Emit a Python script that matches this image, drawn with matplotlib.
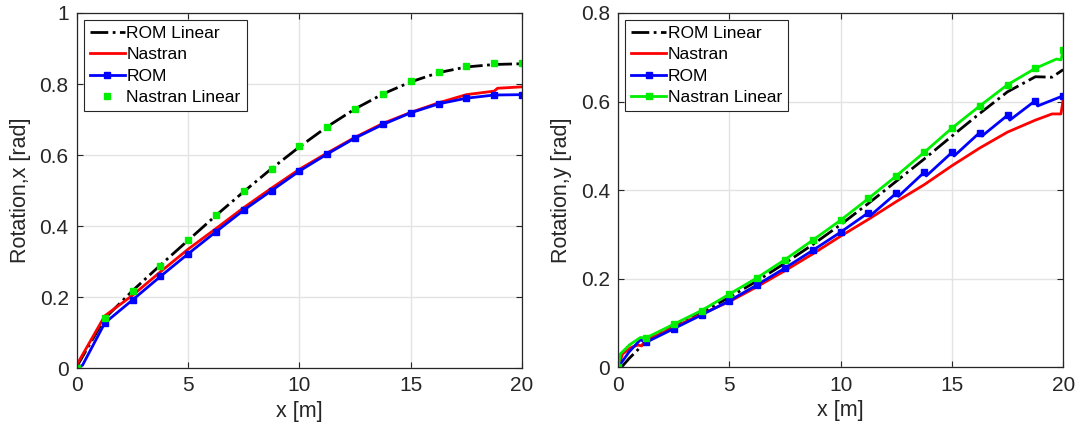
import numpy as np
import matplotlib
matplotlib.use("Agg")
from matplotlib import pyplot as plt

plt.rcParams["font.family"] = ["Liberation Sans", "DejaVu Sans"]

# stations along the span where the markers sit
stations = [0, 1.25, 2.5, 3.75, 5, 6.25, 7.5, 8.75, 10, 11.25, 12.5, 13.75, 15, 16.25, 17.5, 18.75, 20]

# ---- Rotation about x (left panel)
rx_nastran_lin = [0.0, 0.142, 0.216, 0.288, 0.361, 0.430, 0.499, 0.562, 0.625, 0.679,
                  0.730, 0.772, 0.808, 0.834, 0.850, 0.858, 0.858]
rx_rom_lin = [0.005, 0.140, 0.218, 0.290, 0.360, 0.430, 0.497, 0.562, 0.623, 0.680,
              0.730, 0.772, 0.806, 0.832, 0.848, 0.855, 0.857]
rx_nastran_x = [0, 1.25, 2.5, 3.75, 5, 6.25, 7.5, 8.75, 10, 11.25, 12.5, 13.75, 15,
                16.25, 17.5, 18.75, 18.9, 20]
rx_nastran = [0.01, 0.147, 0.205, 0.271, 0.335, 0.393, 0.452, 0.507, 0.56, 0.606,
              0.65, 0.689, 0.72, 0.747, 0.77, 0.78, 0.788, 0.792]
rx_rom_x = [0, 0.25, 1.25, 2.5, 3.75, 5, 6.25, 7.5, 8.75, 10, 11.25, 12.5, 13.75, 15,
            16.25, 17.5, 18.75, 20]
rx_rom = [0, 0.008, 0.127, 0.192, 0.258, 0.322, 0.384, 0.445, 0.5, 0.555, 0.603,
          0.648, 0.686, 0.719, 0.744, 0.76, 0.769, 0.77]

# ---- Rotation about y (right panel)
ry_rom_lin_x = [0.15, 0.5, 1.0, 1.25, 2.5, 3.75, 5, 6.25, 7.5, 8.75, 10, 11.25, 12.5,
                13.75, 15, 16.25, 17.5, 18.75, 19.5, 20]
ry_rom_lin = [0, 0.02, 0.045, 0.06, 0.093, 0.123, 0.158, 0.195, 0.235, 0.277, 0.322,
              0.37, 0.42, 0.47, 0.522, 0.573, 0.622, 0.656, 0.655, 0.672]
ry_nastran_x = [0, 0.2, 0.6, 0.9, 1.05, 1.25, 2.5, 3.75, 5, 6.25, 7.5, 8.75, 10, 11.25,
                12.5, 13.75, 15, 16.25, 17.5, 18.75, 19.5, 19.9, 20]
ry_nastran = [0, 0.03, 0.045, 0.05, 0.048, 0.06, 0.09, 0.12, 0.148, 0.182, 0.218, 0.256,
              0.296, 0.334, 0.374, 0.412, 0.455, 0.495, 0.531, 0.558, 0.572, 0.572, 0.604]
ry_rom_x = [0, 0.5, 1.0, 1.25, 2.5, 3.75, 5, 6.25, 7.5, 8.75, 10, 11.25, 11.35, 12.5,
            12.6, 13.75, 13.85, 15, 15.1, 16.25, 16.35, 17.5, 17.6, 18.75, 18.85, 20]
ry_rom = [0, 0.035, 0.062, 0.056, 0.087, 0.118, 0.15, 0.186, 0.224, 0.264, 0.305, 0.349,
          0.343, 0.393, 0.386, 0.44, 0.432, 0.485, 0.477, 0.53, 0.522, 0.569, 0.558,
          0.602, 0.59, 0.613]
ry_nastran_lin_x = [0, 0.1, 0.5, 1.0, 1.25, 2.5, 3.75, 5, 6.25, 7.5, 8.75, 10, 11.25,
                    12.5, 13.75, 15, 16.25, 17.5, 18.75, 19.7, 19.9, 20]
ry_nastran_lin = [0, 0.03, 0.05, 0.067, 0.066, 0.097, 0.128, 0.165, 0.202, 0.243, 0.287,
                  0.332, 0.381, 0.432, 0.485, 0.54, 0.59, 0.638, 0.675, 0.696, 0.694, 0.716]

GREEN = "#00ee00"
AXC = "#262626"


def marker_idx(xs):
    # markers only at the 1.25 m stations
    return [i for i, v in enumerate(xs) if abs(v / 1.25 - round(v / 1.25)) < 1e-9]


def style_axes(ax, ylim, yticks, ylabel):
    ax.set_xlim(0, 20)
    ax.set_ylim(*ylim)
    ax.set_xticks([0, 5, 10, 15, 20])
    ax.set_yticks(yticks)
    ax.set_yticklabels(["%g" % t for t in yticks])
    ax.grid(True, color="#e3e3e3", linewidth=1.0)
    ax.set_axisbelow(True)
    ax.tick_params(direction="in", length=4, labelsize=15, colors=AXC,
                   top=True, right=True, pad=6)
    for s in ax.spines.values():
        s.set_color(AXC)
        s.set_linewidth(0.9)
    ax.set_xlabel("x [m]", fontsize=15.5, color=AXC, labelpad=4)
    ax.set_ylabel(ylabel, fontsize=15.5, color=AXC, labelpad=6)
    leg = ax.legend(loc="upper left", fontsize=12.5, handlelength=2.0, handletextpad=0.1,
                    labelspacing=0.35, borderpad=0.35, fancybox=False, framealpha=1,
                    borderaxespad=0.4)
    leg.get_frame().set_edgecolor("#262626")
    leg.get_frame().set_linewidth(0.8)


fig = plt.figure(figsize=(10.75, 4.33), dpi=100)
ax1 = fig.add_axes([0.0716, 0.150, 0.414, 0.820])
ax2 = fig.add_axes([0.575, 0.152, 0.414, 0.818])

ax1.plot(stations, rx_rom_lin, "k-.", lw=2, label="ROM Linear")
ax1.plot(rx_nastran_x, rx_nastran, color="red", lw=2, label="Nastran")
ax1.plot(rx_rom_x, rx_rom, color="blue", lw=2, marker="s", ms=4,
         markevery=marker_idx(rx_rom_x), label="ROM")
ax1.plot(stations, rx_nastran_lin, ls="none", color=GREEN, marker="s", ms=5,
         label="Nastran Linear")
style_axes(ax1, (0, 1), [0, 0.2, 0.4, 0.6, 0.8, 1.0], "Rotation,x [rad]")

ax2.plot(ry_rom_lin_x, ry_rom_lin, "k-.", lw=2, label="ROM Linear")
ax2.plot(ry_nastran_x, ry_nastran, color="red", lw=2, label="Nastran")
ax2.plot(ry_rom_x, ry_rom, color="blue", lw=2, marker="s", ms=4,
         markevery=marker_idx(ry_rom_x), label="ROM")
ax2.plot(ry_nastran_lin_x, ry_nastran_lin, color=GREEN, lw=2, marker="s", ms=4,
         markevery=marker_idx(ry_nastran_lin_x), label="Nastran Linear")
style_axes(ax2, (0, 0.8), [0, 0.2, 0.4, 0.6, 0.8], "Rotation,y [rad]")

fig.savefig("out.png", dpi=100)
